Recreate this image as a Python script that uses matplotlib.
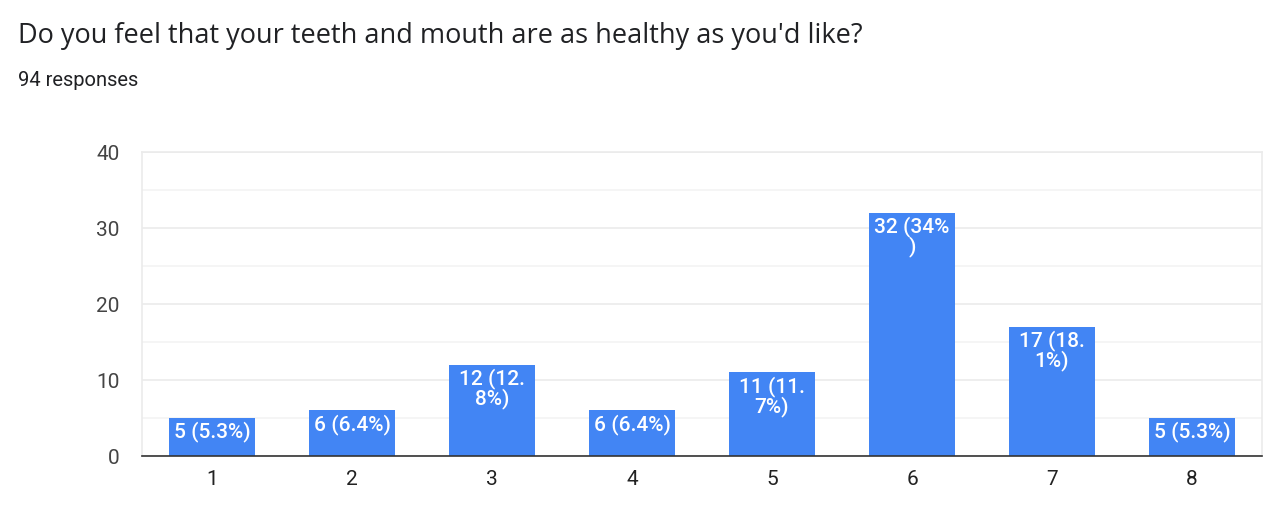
import numpy as np
import matplotlib
matplotlib.use("Agg")
from matplotlib import pyplot as plt

categories = ["1", "2", "3", "4", "5", "6", "7", "8"]
counts = [5, 6, 12, 6, 11, 32, 17, 5]
labels = ["5 (5.3%)", "6 (6.4%)", "12 (12.\n8%)", "6 (6.4%)",
          "11 (11.\n7%)", "32 (34%\n)", "17 (18.\n1%)", "5 (5.3%)"]
yticks = [0, 10, 20, 30, 40]

plt.rcParams['font.family'] = ['Roboto', 'DejaVu Sans']

fig = plt.figure(figsize=(12.74, 5.18), dpi=100)
ax = fig.add_axes([142/1274, 1 - 456/518, 1120/1274, 304/518])

xs = np.arange(1, len(categories) + 1)
ax.bar(xs, counts, width=0.62, color='#4285F4', zorder=3)

for x, c, lab in zip(xs, counts, labels):
    ax.annotate(lab, xy=(x, c), xytext=(0, -2.5), textcoords='offset points',
                ha='center', va='top', color='white', fontsize=15,
                fontweight='medium', linespacing=0.95, zorder=4)

ax.set_xlim(0.5, 8.5)
ax.set_ylim(0, 40)
ax.set_yticks(yticks)
ax.set_yticks([5, 15, 25, 35], minor=True)
ax.set_xticks(xs)
ax.set_xticklabels(categories)
ax.tick_params(axis='both', which='both', length=0, labelsize=15, colors='#222222')
ax.tick_params(axis='y', pad=16, colors='#444444')
ax.tick_params(axis='x', pad=10)
ax.grid(axis='y', which='major', color='#ebebeb', linewidth=1.2, zorder=0)
ax.grid(axis='y', which='minor', color='#f3f3f3', linewidth=1.2, zorder=0)

for side in ['left', 'right', 'top']:
    ax.spines[side].set_color('#ebebeb')
    ax.spines[side].set_linewidth(1.2)
ax.spines['bottom'].set_color('#333333')
ax.spines['bottom'].set_linewidth(1.2)
ax.spines['bottom'].set_zorder(5)

fig.text(18/1274, 1 - 36/518, "Do you feel that your teeth and mouth are as healthy as you'd like?",
         fontsize=19.5, color='#202124', va='center', ha='left',
         family=['Open Sans', 'DejaVu Sans'])
fig.text(18/1274, 1 - 81/518, "94 responses", fontsize=14.5, color='#202124',
         va='center', ha='left')

fig.savefig('out.png', dpi=100)
